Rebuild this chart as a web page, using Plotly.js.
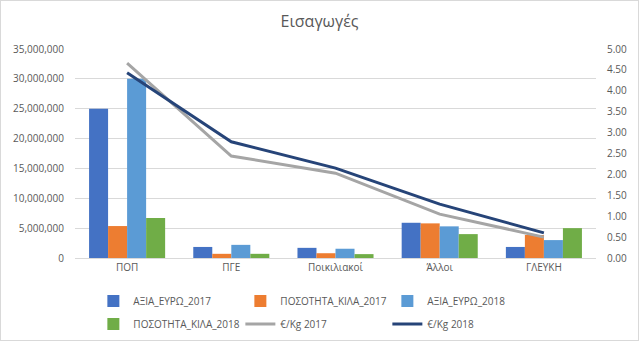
<!DOCTYPE html>
<html>
<head>
<meta charset="utf-8">
<script src="https://cdn.plot.ly/plotly-3.0.1.min.js"></script>
<style>
  html, body { margin: 0; padding: 0; background: #fff; }
  #chart { width: 637px; height: 339px; border: 1px solid #d9d9d9; }
</style>
</head>
<body>
<div id="chart"></div>
<script>
const categories = ["ΠΟΠ", "ΠΓΕ", "Ποικιλιακοί", "Άλλοι", "ΓΛΕΥΚΗ"];
const axiaEuro2017 = [25000000, 1850000, 1700000, 5900000, 1850000];
const posotitaKila2017 = [5350000, 700000, 800000, 5800000, 3850000];
const axiaEuro2018 = [30000000, 2200000, 1550000, 5300000, 3000000];
const posotitaKila2018 = [6700000, 700000, 650000, 4000000, 5000000];
const euroPerKg2017 = [4.66, 2.44, 2.03, 1.05, 0.50];
const euroPerKg2018 = [4.43, 2.78, 2.15, 1.29, 0.60];
const leftTicks = [0, 5000000, 10000000, 15000000, 20000000, 25000000, 30000000, 35000000];
const rightTicks = [0, 0.5, 1, 1.5, 2, 2.5, 3, 3.5, 4, 4.5, 5];

const font = "Open Sans, Liberation Sans, sans-serif";
const txt = "#595959";

function bar(name, y, color, lg) {
  return { type: "bar", name: name, x: categories, y: y, marker: { color: color }, yaxis: "y", legend: lg };
}
function line(name, y, color, lg) {
  return { type: "scatter", mode: "lines", name: name, x: categories, y: y, yaxis: "y2", line: { color: color, width: 3 }, legend: lg };
}

const data = [
  bar("ΑΞΙΑ_ΕΥΡΩ_2017", axiaEuro2017, "#4472c4", "legend"),
  bar("ΠΟΣΟΤΗΤΑ_ΚΙΛΑ_2017", posotitaKila2017, "#ed7d31", "legend"),
  bar("ΑΞΙΑ_ΕΥΡΩ_2018", axiaEuro2018, "#5b9bd5", "legend"),
  bar("ΠΟΣΟΤΗΤΑ_ΚΙΛΑ_2018", posotitaKila2018, "#70ad47", "legend2"),
  line("€/Kg 2017", euroPerKg2017, "#a5a5a5", "legend2"),
  line("€/Kg 2018", euroPerKg2018, "#264478", "legend2")
];

const legendBase = { orientation: "h", x: 0.145, xref: "container", xanchor: "left", yref: "container", yanchor: "middle",
                     entrywidth: 102, font: { family: font, size: 10, color: txt }, traceorder: "normal",
                     bgcolor: "rgba(0,0,0,0)" };

const layout = {
  width: 637, height: 339,
  margin: { l: 74, r: 42, t: 48, b: 82 },
  paper_bgcolor: "#fff", plot_bgcolor: "#fff",
  font: { family: font, color: txt, size: 10 },
  title: { text: "Εισαγωγές", font: { family: font, size: 16, color: txt }, x: 0.5, xanchor: "center", y: 0.94, yanchor: "middle" },
  barmode: "group", bargap: 0.27, bargroupgap: 0,
  showlegend: true,
  legend: Object.assign({}, legendBase, { y: 1 - 300 / 339 }),
  legend2: Object.assign({}, legendBase, { y: 1 - 323 / 339 }),
  xaxis: { type: "category", showgrid: false, showline: true, linecolor: "#d9d9d9", ticks: "",
           tickfont: { family: font, size: 10, color: txt }, fixedrange: true },
  yaxis: { range: [0, 35000000], tickvals: leftTicks, tickformat: ",d", showgrid: true, gridcolor: "#d9d9d9",
           zeroline: false, showline: false, ticks: "", tickfont: { family: font, size: 10, color: txt }, ticklabelstandoff: 10 },
  yaxis2: { range: [0, 5], tickvals: rightTicks, tickformat: ".2f", overlaying: "y", side: "right",
            showgrid: false, zeroline: false, showline: false, ticks: "", tickfont: { family: font, size: 10, color: txt }, ticklabelstandoff: 10 }
};

Plotly.newPlot("chart", data, layout, { displayModeBar: false, staticPlot: true });
</script>
</body>
</html>
